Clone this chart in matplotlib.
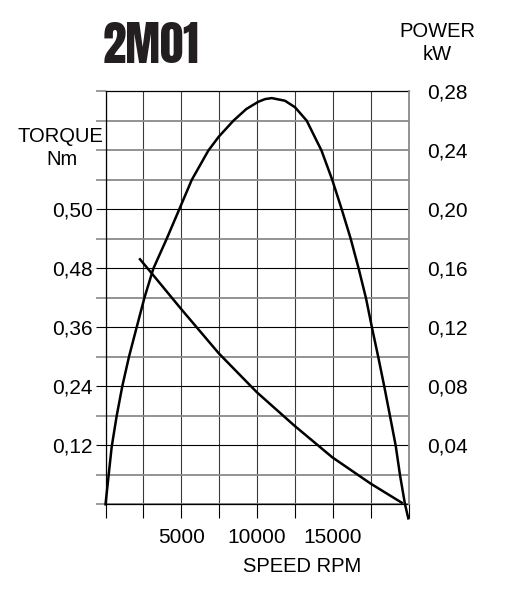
import matplotlib
matplotlib.use("Agg")
import matplotlib.pyplot as plt
from matplotlib import font_manager
from matplotlib.font_manager import FontProperties
from matplotlib.textpath import TextPath
from matplotlib.ticker import FixedLocator, NullFormatter

# valores (rpm, kW)
power_rpm = [0, 409, 739, 1108, 1550, 2058, 2559, 3153, 4037, 4868, 5686, 6781,
             7467, 8440, 9290, 10079, 10521, 10963, 11840, 12500, 13272, 14250,
             14960, 15580, 16174, 16702, 17183, 17579, 17995, 18391, 18767,
             19143, 19426, 19756, 19974]
power_kw = [0.0, 0.039, 0.060, 0.080, 0.100, 0.120, 0.1396, 0.1596, 0.1799,
            0.1999, 0.2197, 0.2396, 0.2490, 0.2599, 0.2678, 0.2727, 0.2745,
            0.2752, 0.2734, 0.2690, 0.2599, 0.2396, 0.2197, 0.1999, 0.1799,
            0.1596, 0.1396, 0.1196, 0.0996, 0.0797, 0.0598, 0.0397, 0.0198,
            0.0, -0.0095]

# par (rpm, Nm)
torque_rpm = [2276, 3047, 4960, 7467, 9974, 12454, 14960, 17493, 19538]
torque_nm = [0.498, 0.4695, 0.398, 0.307, 0.228, 0.160, 0.0955, 0.042, 0.0033]

speed_ticks = [5000, 10000, 15000]
speed_minor = [0, 2500, 7500, 12500, 17500, 20000]
torque_ticks = [0.12, 0.24, 0.36, 0.48, 0.60]
torque_labels = ["0,12", "0,24", "0,36", "0,48", "0,50"]
torque_minor = [0.0, 0.06, 0.18, 0.30, 0.42, 0.54, 0.66, 0.72, 0.78, 0.84]
power_ticks = [0.04, 0.08, 0.12, 0.16, 0.20, 0.24, 0.28]
power_labels = ["0,04", "0,08", "0,12", "0,16", "0,20", "0,24", "0,28"]

plt.rcParams["font.family"] = ["Liberation Sans", "DejaVu Sans"]

# fuente estrecha y gruesa para el titulo
disponibles = set(f.name for f in font_manager.fontManager.ttflist)
estrechas = ["Anton", "Oswald", "Roboto Condensed", "Archivo Narrow",
             "Barlow Condensed", "PT Sans Narrow", "Liberation Sans Narrow",
             "DejaVu Sans"]
fuente_titulo = [f for f in estrechas if f in disponibles][0]
prop_titulo = FontProperties(family=fuente_titulo, weight="bold")
ext = TextPath((0, 0), "2M01", size=100, prop=prop_titulo).get_extents()
size_titulo = 41 * 72 / ext.height  # ~41 px de altura de tinta

W, H = 513, 595
fig = plt.figure(figsize=(W / 100, H / 100), dpi=100)
ax = fig.add_axes([105.5 / W, 1 - 504.3 / H, 303.2 / W, 413.3 / H])
ax2 = ax.twinx()

ax.set_xlim(0, 20000)
ax.set_ylim(0, 0.84)
ax2.set_ylim(0, 0.28)

# eje x
ax.xaxis.set_major_locator(FixedLocator(speed_ticks))
ax.xaxis.set_minor_locator(FixedLocator(speed_minor))
ax.set_xticklabels(["5000", "10000", "15000"])
ax.tick_params(axis="x", which="both", direction="out", length=10, width=0.8,
               labelsize=15, pad=7)

# eje izquierdo (par)
ax.yaxis.set_major_locator(FixedLocator(torque_ticks))
ax.yaxis.set_minor_locator(FixedLocator(torque_minor))
ax.set_yticklabels(torque_labels)
ax.yaxis.set_minor_formatter(NullFormatter())
ax.tick_params(axis="y", which="major", direction="out", length=7, width=0.8,
               labelsize=15, pad=2)
ax.tick_params(axis="y", which="minor", direction="out", length=7, width=1.2,
               color="#8a8a8a")

# eje derecho (potencia)
ax2.yaxis.set_major_locator(FixedLocator(power_ticks))
ax2.set_yticklabels(power_labels)
ax2.tick_params(axis="y", length=0, labelsize=15, pad=13)

# rejilla
ax.grid(axis="y", which="major", color="black", linewidth=0.8)
ax.grid(axis="y", which="minor", color="#8a8a8a", linewidth=1.3)
ax.grid(axis="x", which="both", color="#3a3a3a", linewidth=0.8)
for t in ax.xaxis.get_minor_ticks():
    if t.get_loc() == 17500:
        t.gridline.set_color("#8a8a8a")
        t.gridline.set_linewidth(1.3)
ax.set_axisbelow(True)

for s in ["left", "top", "bottom"]:
    ax.spines[s].set_linewidth(0.9)
ax.spines["right"].set_visible(False)
for s in ["left", "top", "bottom"]:
    ax2.spines[s].set_visible(False)
ax2.spines["right"].set_color("#8a8a8a")
ax2.spines["right"].set_linewidth(1.3)

# curvas
ax.plot(torque_rpm, torque_nm, color="black", linewidth=1.8,
        solid_joinstyle="round")
ax2.plot(power_rpm, power_kw, color="black", linewidth=1.8, clip_on=False,
         solid_joinstyle="round")

# textos
def px(x, y):
    return x / W, 1 - y / H

fig.text(*px(103, 62.7), "2M01", ha="left", va="baseline", fontsize=size_titulo,
         family=[fuente_titulo, "DejaVu Sans"], fontweight="bold",
         color="#231f20")
fig.text(*px(437.5, 37), "POWER", ha="center", va="baseline", fontsize=14.5)
fig.text(*px(437.5, 59.5), "kW", ha="center", va="baseline", fontsize=14.5)
fig.text(*px(60, 141.7), "TORQUE", ha="center", va="baseline", fontsize=14.5)
fig.text(*px(62.5, 165), "Nm", ha="center", va="baseline", fontsize=14.5)
fig.text(*px(302.5, 572), "SPEED RPM", ha="center", va="baseline", fontsize=14.5)

fig.savefig("out.png", dpi=100)
